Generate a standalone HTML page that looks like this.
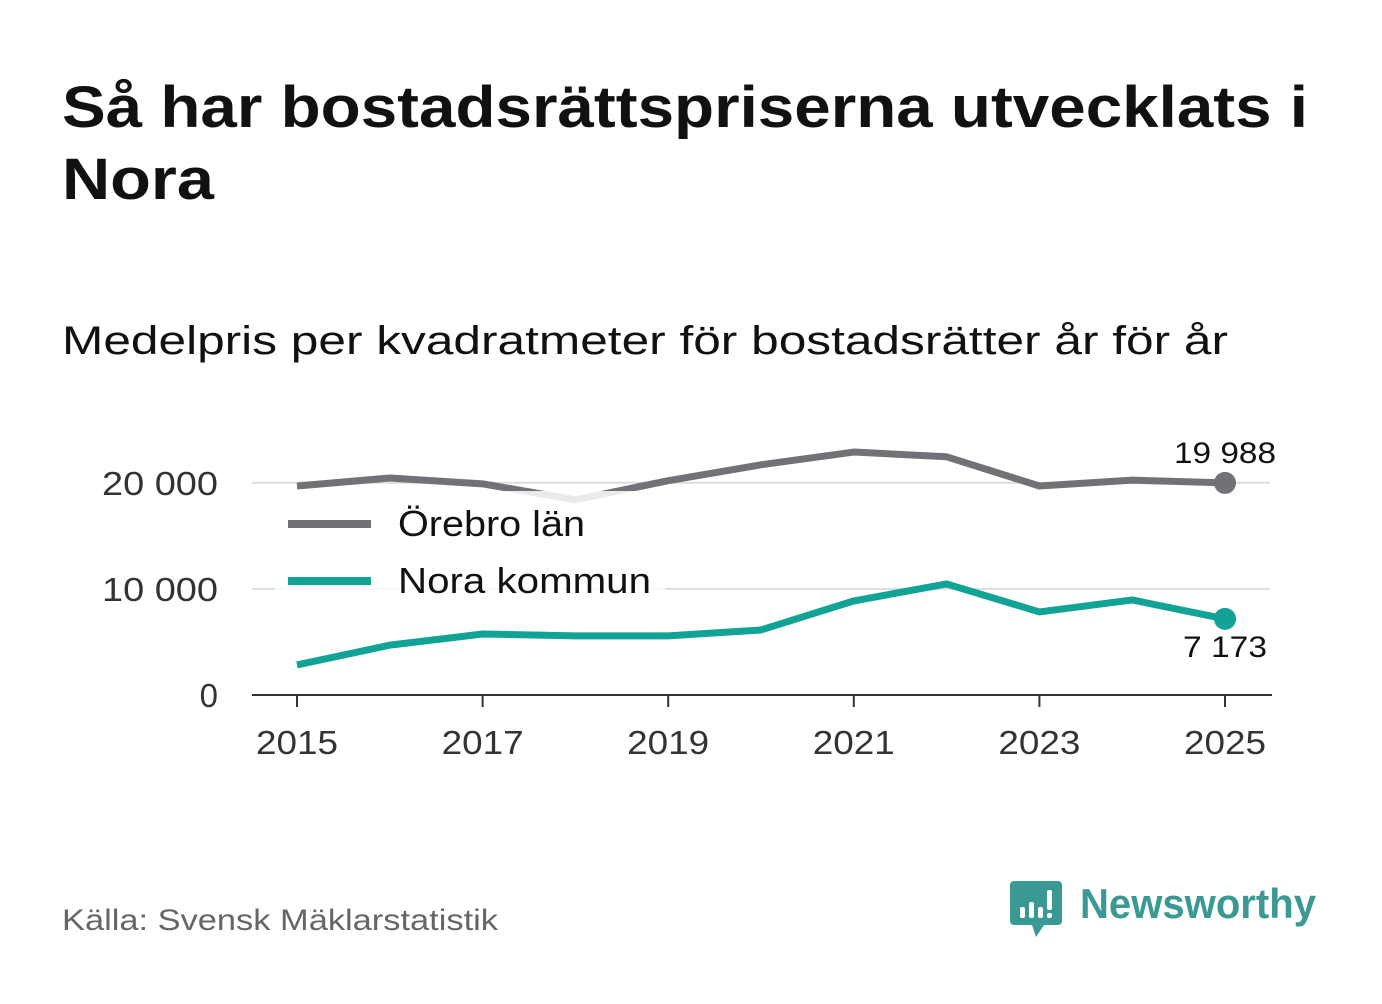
<!DOCTYPE html>
<html><head><meta charset="utf-8">
<style>
body{margin:0;background:#fff;width:1382px;height:999px;overflow:hidden;font-family:"Liberation Sans","DejaVu Sans",sans-serif;}
</style></head>
<body>
<svg width="1382" height="999" xmlns="http://www.w3.org/2000/svg">
<text x="62" y="127" font-size="58" font-weight="bold" fill="#111" textLength="1246" lengthAdjust="spacingAndGlyphs">Så har bostadsrättspriserna utvecklats i</text>
<text x="62" y="199" font-size="58" font-weight="bold" fill="#111" textLength="152" lengthAdjust="spacingAndGlyphs">Nora</text>
<text x="62" y="354" font-size="40" fill="#111" textLength="1166" lengthAdjust="spacingAndGlyphs">Medelpris per kvadratmeter för bostadsrätter år för år</text>
<g id="plot"></g>
<text x="62" y="930" font-size="30" fill="#666" textLength="436" lengthAdjust="spacingAndGlyphs">Källa: Svensk Mäklarstatistik</text>
<g>
<path d="M1014 881 h44 a4 4 0 0 1 4 4 v36 a4 4 0 0 1 -4 4 h-14 l-8 12 l-4 -12 h-18 a4 4 0 0 1 -4 -4 v-36 a4 4 0 0 1 4 -4z" fill="#3a9a93"/>
<rect x="1020" y="907" width="5" height="11" rx="2" fill="#fff"/>
<rect x="1029" y="902" width="5" height="16" rx="2" fill="#fff"/>
<rect x="1038" y="907" width="5" height="11" rx="2" fill="#fff"/>
<rect x="1047" y="890" width="5" height="20" rx="2" fill="#fff"/>
<rect x="1047" y="913" width="5" height="5" rx="2" fill="#fff"/>
<text x="1080" y="918" font-size="42" font-weight="bold" fill="#3a9a93" textLength="236" lengthAdjust="spacingAndGlyphs">Newsworthy</text>
</g>
</svg>
<script>
const years=[2015,2016,2017,2018,2019,2020,2021,2022,2023,2024,2025];
const orebro=[19700,20450,19900,18400,20200,21700,22900,22450,19700,20250,19988];
const nora=[2830,4700,5750,5570,5570,6130,8870,10470,7830,8960,7173];
const yTicks=[0,10000,20000];
const yTickLabels=["0","10 000","20 000"];
const xTicks=[2015,2017,2019,2021,2023,2025];
const NS="http://www.w3.org/2000/svg";
const g=document.getElementById('plot');
const X=v=>297+(v-2015)*92.8;
const Y=v=>695-v*0.01061;
function el(t,a){const e=document.createElementNS(NS,t);for(const k in a)e.setAttribute(k,a[k]);g.appendChild(e);return e;}
yTicks.forEach((t,i)=>{
 if(t>0){const l=el('line',{x1:252,x2:1270,y1:Y(t),y2:Y(t),stroke:'#ddd','stroke-width':2});
 
 }
 const tx=el('text',{x:218,y:Y(t)+12,'font-size':33,'text-anchor':'end',fill:'#333'});tx.textContent=yTickLabels[i];
 if(t>0){tx.setAttribute('textLength',116);tx.setAttribute('lengthAdjust','spacingAndGlyphs');}
 
 
});
const ax=el('line',{x1:252,x2:1272,y1:695,y2:695,stroke:'#333','stroke-width':2});


xTicks.forEach(t=>{
 el('line',{x1:X(t),x2:X(t),y1:695,y2:707,stroke:'#333','stroke-width':2});
 const tx=el('text',{x:X(t),y:754,'font-size':33,'text-anchor':'middle',fill:'#333',textLength:82,lengthAdjust:'spacingAndGlyphs'});tx.textContent=t;
 
 
});
function line(vals,color,name){
 const p=el('polyline',{points:vals.map((v,i)=>X(years[i])+','+Y(v)).join(' '),fill:'none',stroke:color,'stroke-width':7,'stroke-linejoin':'round'});
 
 
 const c=el('circle',{cx:X(years[years.length-1]),cy:Y(vals[vals.length-1]),r:11,fill:color});
 
 
}
line(orebro,'#727177','orebro-line');
line(nora,'#12a397','nora-line');
const lb=el('rect',{x:275,y:491,width:390,height:112,fill:'#fff','fill-opacity':0.85});


[['Örebro län','#727177',524,187],['Nora kommun','#12a397',581,253]].forEach(([n,c,y,w])=>{
 el('rect',{x:288,y:y-4,width:83,height:8,fill:c});
 const t=el('text',{x:398,y:y+12,'font-size':36,fill:'#111',textLength:w,lengthAdjust:'spacingAndGlyphs'});t.textContent=n;
 
 
});
const a1=el('text',{x:1225,y:Y(orebro[10])-20,'font-size':30,'text-anchor':'middle',fill:'#111',textLength:102,lengthAdjust:'spacingAndGlyphs'});a1.textContent='19 988';


const a2=el('text',{x:1225,y:Y(nora[10])+38,'font-size':30,'text-anchor':'middle',fill:'#111',textLength:84,lengthAdjust:'spacingAndGlyphs'});a2.textContent='7 173';


</script>
</body></html>
